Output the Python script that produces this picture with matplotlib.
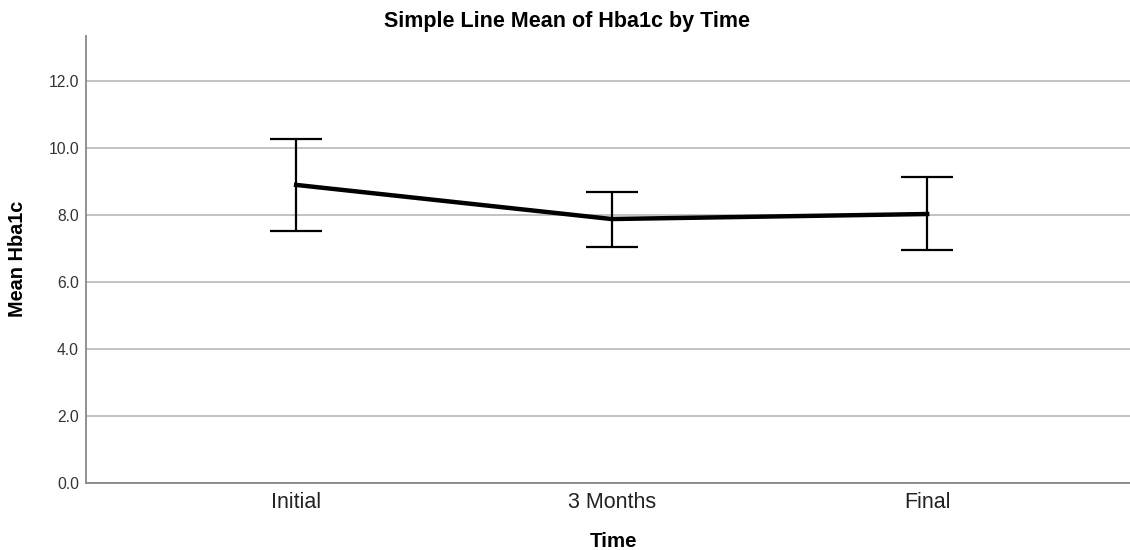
import matplotlib
matplotlib.use('Agg')
import matplotlib.pyplot as plt
import numpy as np

plt.rcParams['font.family'] = ['Liberation Sans', 'DejaVu Sans']

# data
times = ['Initial', '3 Months', 'Final']
mean_hba1c = [8.90, 7.88, 8.03]
ci_upper = [10.28, 8.70, 9.15]
ci_lower = [7.52, 7.05, 6.94]

x = np.arange(len(times))
mean_arr = np.array(mean_hba1c)
yerr = [mean_arr - np.array(ci_lower), np.array(ci_upper) - mean_arr]

fig = plt.figure(figsize=(11.3, 5.5), dpi=100)
ax = fig.add_axes([0.0761, 0.1224, 0.9239, 0.8121])

ax.errorbar(x, mean_hba1c, yerr=yerr, fmt='none', ecolor='black',
            elinewidth=1.6, capsize=18.7, capthick=1.6, zorder=3)
ax.plot(x, mean_hba1c, color='black', linewidth=3.2, zorder=4)

ax.set_xlim(-0.666, 2.643)
ax.set_ylim(0, 13.35)
ax.set_yticks(np.arange(0, 13, 2))
ax.set_yticklabels([f'{v:.1f}' for v in np.arange(0, 13, 2)])
ax.set_xticks(x)
ax.set_xticklabels(times)

ax.yaxis.grid(True, color='#b8b8b8', linewidth=1.2)
ax.set_axisbelow(True)
ax.tick_params(axis='both', length=0)
ax.tick_params(axis='y', labelsize=11.3, pad=5, labelcolor='#333333')
ax.tick_params(axis='x', labelsize=15.5, pad=7, labelcolor='#222222')

for side in ['top', 'right']:
    ax.spines[side].set_visible(False)
for side in ['left', 'bottom']:
    ax.spines[side].set_color('#888888')
    ax.spines[side].set_linewidth(1.3)

ax.set_xlabel('Time', fontsize=14.8, fontweight='bold')
ax.xaxis.set_label_coords(0.505, -0.11)
ax.set_ylabel('Mean Hba1c', fontsize=14.3, fontweight='bold')
ax.yaxis.set_label_coords(-0.0565, 0.5)

fig.text(0.502, 0.96, 'Simple Line Mean of Hba1c by Time', ha='center', va='center',
         fontsize=15.5, fontweight='bold')

fig.savefig('out.png', dpi=100)
